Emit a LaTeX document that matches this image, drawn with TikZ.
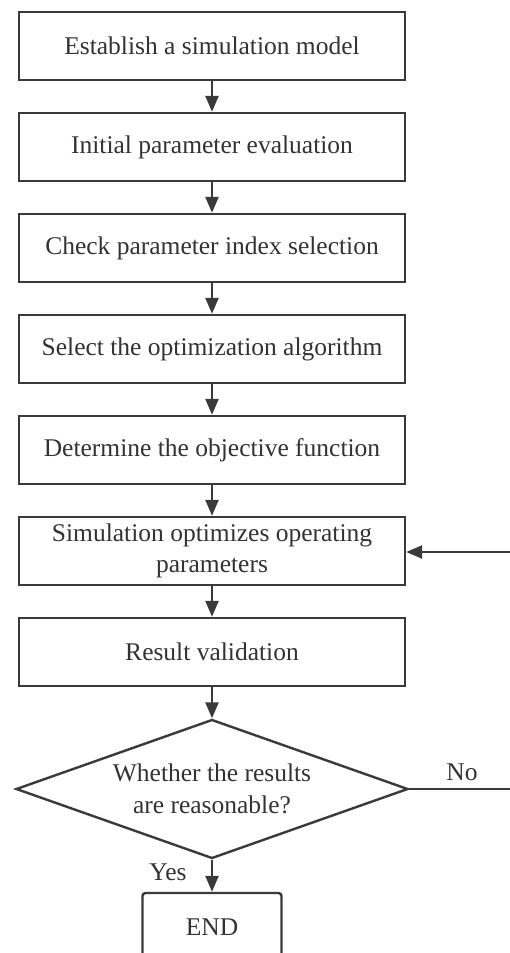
\documentclass[tikz,border=0pt]{standalone}
\usepackage{fontspec}
\setmainfont{Liberation Serif}
\usetikzlibrary{shapes.geometric,arrows.meta}
\definecolor{ln}{HTML}{3A3A3A}
\definecolor{tx}{HTML}{333333}
\tikzset{
  stepbox/.style={draw=ln, line width=2.4pt, minimum width=386pt, minimum height=68pt, inner sep=0pt, align=center, text=tx, font=\fontsize{25.5pt}{31pt}\selectfont},
  decide/.style={draw=ln, line width=2.4pt, diamond, aspect=2.82, minimum width=392pt, minimum height=139pt, inner sep=0pt, align=center, text=tx, font=\fontsize{25.5pt}{32pt}\selectfont},
  endbox/.style={draw=ln, line width=2.4pt, rounded corners=3pt, minimum width=139pt, minimum height=68pt, inner sep=0pt, text=tx, font=\fontsize{25.5pt}{31pt}\selectfont},
  arr/.style={draw=ln, line width=2.4pt, -{Triangle[length=16pt,width=13pt]}},
  lbl/.style={text=tx, inner sep=0pt, font=\fontsize{25.5pt}{31pt}\selectfont},
}
\begin{document}
\begin{tikzpicture}[x=1pt,y=-1pt]
\useasboundingbox (0,0) rectangle (510,953);
\clip (0,0) rectangle (510,953);
\fill[white] (0,0) rectangle (510,953);
\node[stepbox] (b1) at (212,46) {Establish a simulation model};
\node[stepbox] (b2) at (212,147) {Initial parameter evaluation};
\node[stepbox] (b3) at (212,248) {Check parameter index selection};
\node[stepbox] (b4) at (212,349) {Select the optimization algorithm};
\node[stepbox] (b5) at (212,450) {Determine the objective function};
\node[stepbox] (b6) at (212,551) {Simulation optimizes operating\\parameters};
\node[stepbox] (b7) at (212,652) {Result validation};
\node[decide] (d) at (212,789) {Whether the results\\are reasonable?};
\node[endbox] (e) at (212,927) {END};
\node[lbl] (yes) at (168,872) {Yes};
\node[lbl] (no) at (462,772) {No};
\coordinate (noend) at (512,789);
\coordinate (fbin) at (512,552);
\draw[arr] (b1) -- (b2);
\draw[arr] (b2) -- (b3);
\draw[arr] (b3) -- (b4);
\draw[arr] (b4) -- (b5);
\draw[arr] (b5) -- (b6);
\draw[arr] (b6) -- (b7);
\draw[arr] (b7) -- (d);
\draw[arr] (d.south) -- (e.north);
\draw[draw=ln, line width=2.4pt] (d.east) -- (noend);
\draw[arr] (fbin) -- (b6.east |- fbin);
\end{tikzpicture}
\end{document}
